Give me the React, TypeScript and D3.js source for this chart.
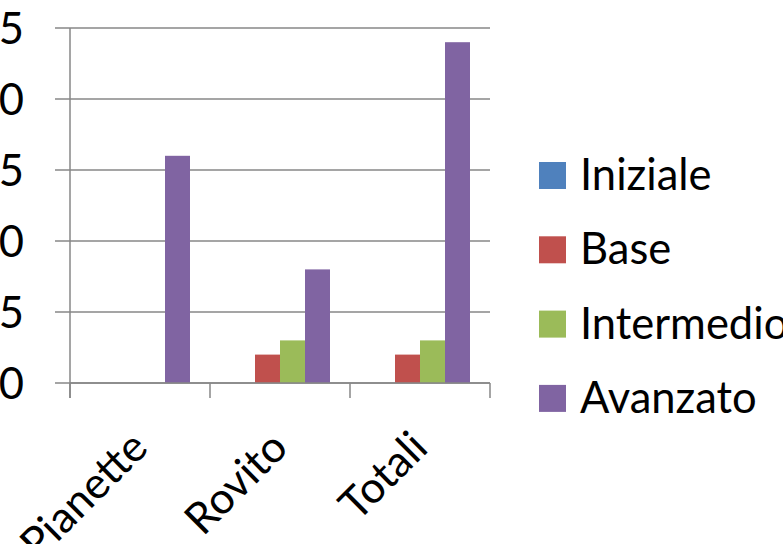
import React from "react";
import * as d3 from "d3";

const categories = ["Pianette", "Rovito", "Totali"];
const seriesNames = ["Iniziale", "Base", "Intermedio", "Avanzato"];
const iniziale = [0, 0, 0];
const base = [0, 2, 2];
const intermedio = [0, 3, 3];
const avanzato = [16, 8, 24];
const yTicks = [0, 5, 10, 15, 20, 25];
const colors = ["#4F81BD", "#C0504D", "#9BBB59", "#8064A2"];

const seriesValues = [iniziale, base, intermedio, avanzato];

export default function App() {
  const W = 783, H = 544;
  const left = 70, right = 490, top = 28, bottom = 383;
  const font = "Lato, 'Open Sans', sans-serif";
  const fs = 43.5;
  const x0 = d3.scaleBand<string>().domain(categories).range([left, right]).padding(0);
  const x1 = d3.scaleBand<string>().domain(seriesNames).range([20, 120]).padding(0);
  const y = d3.scaleLinear().domain([0, 25]).range([bottom, top]);
  const grid = "#878787";

  return (
    <svg width={W} height={H} style={{ position: "absolute", left: 0, top: 0, background: "#fff" }}>
      {yTicks.map((t) => (
        <g key={t}>
          <line x1={55} x2={right} y1={y(t)} y2={y(t)} stroke={grid} strokeWidth={1.5} />
          <text x={24} y={y(t)} dy="0.36em" textAnchor="end" fontFamily={font} fontSize={fs} fill="#000">
            {t}
          </text>
        </g>
      ))}
      <line x1={left} x2={left} y1={top} y2={398} stroke={grid} strokeWidth={1.5} />
      {[left, ...categories.map((c) => (x0(c) as number) + x0.bandwidth())].map((xv, i) => (
        <line key={i} x1={xv} x2={xv} y1={bottom} y2={398} stroke={grid} strokeWidth={1.5} />
      ))}
      {categories.map((c, ci) => (
        <g key={c}>
          {seriesNames.map((s, si) => {
            const v = seriesValues[si][ci];
            if (!v) return null;
            return (
              <rect
                key={s}
                x={(x0(c) as number) + (x1(s) as number)}
                y={y(v)}
                width={x1.bandwidth()}
                height={bottom - y(v)}
                fill={colors[si]}
              />
            );
          })}
        </g>
      ))}
      <line x1={left} x2={right} y1={bottom} y2={bottom} stroke={grid} strokeWidth={1.5} />
      {categories.map((c) => {
        const cx = (x0(c) as number) + x0.bandwidth() / 2 + 10;
        const cy = 450;
        return (
          <text
            key={c}
            x={cx}
            y={cy}
            textAnchor="end"
            transform={`rotate(-45, ${cx}, ${cy})`}
            fontFamily={font}
            fontSize={fs}
            fill="#000"
          >
            {c}
          </text>
        );
      })}
      {seriesNames.map((s, i) => {
        const yy = 162 + i * 74.3;
        return (
          <g key={s}>
            <rect x={539} y={yy} width={27} height={27} fill={colors[i]} />
            <text x={580} y={yy + 28} fontFamily={font} fontSize={fs} fill="#000">
              {s}
            </text>
          </g>
        );
      })}
    </svg>
  );
}
